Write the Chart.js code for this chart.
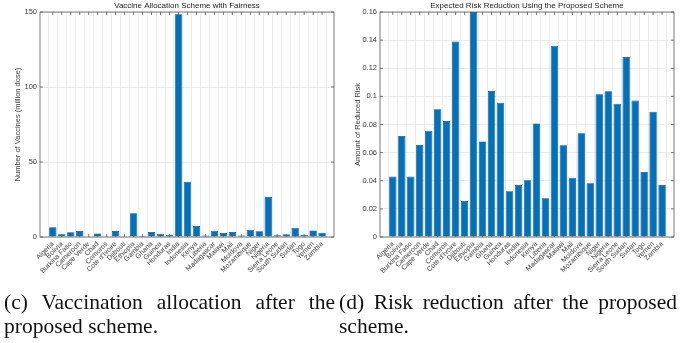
<!DOCTYPE html>
<html>
<head>
<meta charset="utf-8">
<script src="https://cdn.jsdelivr.net/npm/chart.js@4.4.1/dist/chart.umd.min.js"></script>
<style>
  body { margin: 0; background: #fff; width: 683px; height: 343px; position: relative; overflow: hidden; }
  .panel { position: absolute; top: 0; }
  .caption {
    position: absolute; top: 290px;
    font-family: 'Liberation Serif', 'Times New Roman', serif;
    font-size: 21.5px; line-height: 24px; color: #111;
    text-align: justify;
  }
</style>
</head>
<body>
<div class="panel" style="left:0px"><canvas id="vacChart" width="340" height="292"></canvas></div>
<div class="panel" style="left:340px"><canvas id="riskChart" width="343" height="292"></canvas></div>
<div class="caption" style="left:4px; width:331px">(c) Vaccination allocation after the proposed scheme.</div>
<div class="caption" style="left:339px; width:338px">(d) Risk reduction after the proposed scheme.</div>
<script>
// Data
const countries = ['Algeria', 'Bolivia', 'Burkina Faso', 'Cameroon', 'Cape Verde', 'Chad', 'Comoros',
  "Cote d'Ivoire", 'Djibouti', 'Ethiopia', 'Gambia', 'Ghana', 'Guinea', 'Honduras', 'India',
  'Indonesia', 'Kenya', 'Liberia', 'Madagascar', 'Malawi', 'Mali', 'Moldova', 'Mozambique',
  'Niger', 'Nigeria', 'Sierra Leone', 'South Sudan', 'Sudan', 'Togo', 'Yemen', 'Zambia'];

// million doses
const vaccineDoses = [6.5, 1.8, 3.1, 4.0, 0.4, 2.4, 0.3, 4.0, 0.3, 15.8, 0.8, 3.3, 2.2, 1.5, 148.5,
  36.9, 7.3, 1.0, 4.1, 2.7, 3.3, 1.0, 4.8, 3.8, 26.7, 1.2, 1.9, 6.2, 1.5, 4.4, 2.9];

const riskReduction = [0.043, 0.0718, 0.043, 0.0654, 0.0756, 0.0908, 0.0825, 0.139, 0.0256, 0.16,
  0.068, 0.1038, 0.0955, 0.0325, 0.037, 0.0403, 0.0808, 0.0275, 0.136, 0.0652, 0.0422, 0.0737,
  0.0382, 0.1015, 0.1036, 0.0948, 0.128, 0.097, 0.0462, 0.089, 0.037];

const vaccineTicks = [0, 50, 100, 150];
const riskTicks = [0, 0.02, 0.04, 0.06, 0.08, 0.1, 0.12, 0.14, 0.16];

const FONT = "'Liberation Sans', Arial, sans-serif";
const TEXT = '#3a3a3a';

// box round the axes, inward ticks on all sides, title over the plot area
const matlabBox = {
  id: 'matlabBox',
  afterDraw(chart, args, opts) {
    const { ctx, chartArea: a, scales } = chart;
    ctx.save();
    ctx.strokeStyle = '#5a5a5a';
    ctx.lineWidth = 0.8;
    ctx.strokeRect(a.left, a.top, a.right - a.left, a.bottom - a.top);
    ctx.beginPath();
    scales.x.ticks.forEach(t => {
      const px = scales.x.getPixelForValue(t.value);
      ctx.moveTo(px, a.bottom); ctx.lineTo(px, a.bottom - 3);
      ctx.moveTo(px, a.top); ctx.lineTo(px, a.top + 3);
    });
    scales.y.ticks.forEach(t => {
      const py = scales.y.getPixelForValue(t.value);
      ctx.moveTo(a.left, py); ctx.lineTo(a.left + 3, py);
      ctx.moveTo(a.right, py); ctx.lineTo(a.right - 3, py);
    });
    ctx.stroke();
    ctx.fillStyle = '#222';
    ctx.font = '8px ' + FONT;
    ctx.textAlign = 'center';
    ctx.textBaseline = 'bottom';
    ctx.fillText(opts.text, (a.left + a.right) / 2, a.top - 2);
    ctx.restore();
  }
};

function makeChart(id, values, title, yTitle, yTicks, rightPad) {
  const yMax = yTicks[yTicks.length - 1];
  return new Chart(document.getElementById(id), {
    type: 'bar',
    data: {
      datasets: [{
        data: values.map((v, i) => ({ x: i + 1, y: v })),
        backgroundColor: '#0072BD',
        borderColor: '#1d4468',
        borderWidth: 0.7,
        barPercentage: 0.82,
        categoryPercentage: 1
      }]
    },
    plugins: [matlabBox],
    options: {
      responsive: false,
      animation: false,
      devicePixelRatio: 1,
      layout: { padding: { top: 12, right: rightPad, left: 0, bottom: 0 } },
      plugins: {
        legend: { display: false },
        tooltip: { enabled: false },
        matlabBox: { text: title }
      },
      scales: {
        x: {
          type: 'linear',
          min: 0.1, max: 31.8,
          afterBuildTicks: (scale) => { scale.ticks = countries.map((c, i) => ({ value: i + 1 })); },
          afterFit: (scale) => { scale.height = 55; },
          grid: { color: '#e6e6e6', lineWidth: 0.8, drawTicks: false },
          border: { display: false },
          ticks: {
            autoSkip: false, maxRotation: 45, minRotation: 45, padding: 3,
            color: TEXT, font: { family: FONT, size: 7 },
            callback: (v) => countries[v - 1]
          }
        },
        y: {
          min: 0, max: yMax,
          afterBuildTicks: (scale) => { scale.ticks = yTicks.map(v => ({ value: v })); },
          afterFit: (scale) => { scale.width = 40; },
          grid: { color: '#e6e6e6', lineWidth: 0.8, drawTicks: false },
          border: { display: false },
          ticks: { padding: 3, color: TEXT, font: { family: FONT, size: 7.5 }, callback: (v) => String(v) },
          title: { display: true, text: yTitle, color: TEXT, font: { family: FONT, size: 7.5 }, padding: { top: 13, bottom: 0 } }
        }
      }
    }
  });
}

makeChart('vacChart', vaccineDoses, 'Vaccine Allocation Scheme with Fairness',
  'Number of Vaccines (million dose)', vaccineTicks, 6);
makeChart('riskChart', riskReduction, 'Expected Risk Reduction Using the Proposed Scheme',
  'Amount of Reduced Risk', riskTicks, 9);
</script>
</body>
</html>
